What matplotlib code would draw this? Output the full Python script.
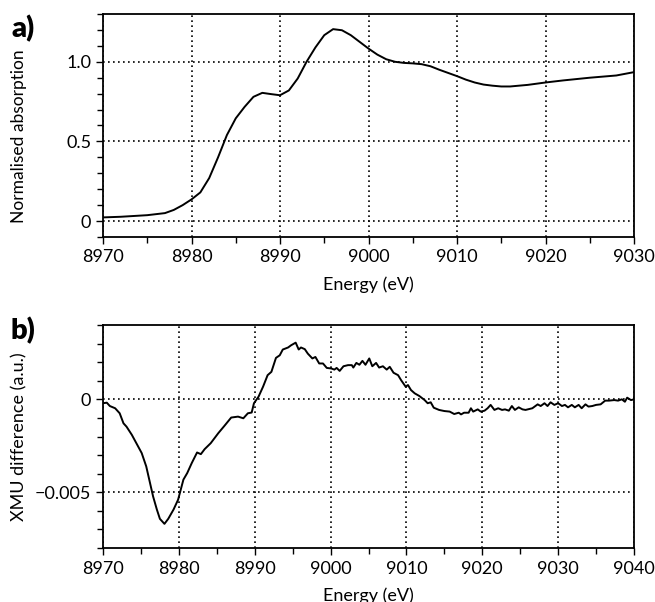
import matplotlib
matplotlib.use("Agg")
import matplotlib.pyplot as plt
from matplotlib.ticker import MultipleLocator, FixedLocator, FixedFormatter

plt.rcParams['font.family'] = ['Lato', 'DejaVu Sans']

# ---- panel a: normalised XANES ----
energy_a = [8970, 8972, 8975, 8977, 8978, 8979, 8980, 8981, 8982, 8983, 8984, 8985,
            8986, 8987, 8988, 8989, 8990, 8991, 8992, 8993, 8994, 8995, 8996, 8997,
            8998, 8999, 9000, 9001, 9002, 9003, 9004, 9005, 9006, 9007, 9008, 9009,
            9010, 9011, 9012, 9013, 9014, 9015, 9016, 9018, 9020, 9022, 9025, 9028, 9030]
absorb_a = [0.023, 0.027, 0.037, 0.050, 0.070, 0.100, 0.136, 0.180, 0.270, 0.400, 0.540, 0.645,
            0.717, 0.780, 0.805, 0.797, 0.790, 0.820, 0.895, 1.000, 1.090, 1.167, 1.205, 1.198,
            1.167, 1.125, 1.083, 1.045, 1.016, 1.000, 0.993, 0.990, 0.985, 0.972, 0.950, 0.930,
            0.910, 0.888, 0.870, 0.857, 0.850, 0.845, 0.845, 0.855, 0.870, 0.883, 0.900, 0.914, 0.935]

# ---- panel b: XMU difference (units of 1e-3) ----
energy_b = [8970.0, 8970.5, 8970.9, 8971.6, 8972.2, 8972.7, 8973.1, 8973.8, 8974.4, 8975.1,
            8975.7, 8976.2, 8976.6, 8977.1, 8977.5, 8978.1, 8978.6, 8979.3, 8979.9, 8980.6,
            8981.1, 8981.7, 8982.4, 8982.9, 8983.4, 8984.2, 8985.2, 8986.0, 8986.9, 8987.8,
            8988.5, 8989.1, 8989.6, 8989.9, 8990.5, 8991.1, 8991.7, 8992.2, 8992.8, 8993.3,
            8993.7, 8994.4, 8994.8, 8995.4, 8995.8, 8996.1, 8996.6, 8997.0, 8997.6, 8998.0,
            8998.5, 8999.0, 8999.5, 9000.1, 9000.5, 9000.8, 9001.2, 9001.7, 9002.3, 9002.8,
            9003.0, 9003.4, 9003.8, 9004.2, 9004.6, 9005.1, 9005.5, 9006.0, 9006.4, 9006.9,
            9007.4, 9007.8, 9008.3, 9008.9, 9009.3, 9009.9, 9010.2, 9010.6, 9011.1, 9011.7,
            9012.4, 9012.8, 9013.2, 9013.6, 9014.3, 9015.0, 9015.7, 9016.3, 9016.9, 9017.2,
            9017.6, 9018.2, 9018.5, 9018.8, 9019.4, 9019.8, 9020.3, 9020.7, 9021.1, 9021.6,
            9022.1, 9022.6, 9023.0, 9023.5, 9023.9, 9024.3, 9024.8, 9025.3, 9025.7, 9026.6,
            9027.3, 9027.7, 9028.2, 9028.6, 9029.0, 9029.5, 9030.0, 9030.5, 9030.9, 9031.3,
            9031.8, 9032.2, 9032.7, 9033.1, 9033.6, 9034.0, 9034.5, 9035.0, 9035.6, 9036.2,
            9036.7, 9037.4, 9037.9, 9038.4, 9038.8, 9039.1, 9039.6, 9040.0]
xmu_b = [-0.21, -0.18, -0.36, -0.48, -0.75, -1.29, -1.47, -1.91, -2.36, -2.89,
         -3.61, -4.50, -5.22, -5.93, -6.43, -6.70, -6.43, -5.93, -5.40, -4.32,
         -3.97, -3.43, -2.86, -2.95, -2.68, -2.36, -1.82, -1.43, -0.98, -0.93,
         -1.02, -0.75, -0.71, -0.21, 0.14, 0.68, 1.30, 1.48, 2.23, 2.37,
         2.68, 2.79, 2.91, 3.05, 2.68, 2.79, 2.70, 2.46, 2.20, 2.28,
         1.93, 1.93, 1.69, 1.66, 1.60, 1.69, 1.53, 1.78, 1.84, 1.84,
         1.71, 1.96, 1.86, 2.07, 1.86, 2.20, 1.78, 1.96, 1.71, 1.78,
         1.60, 1.75, 1.43, 1.30, 1.03, 0.68, 0.77, 0.50, 0.32, 0.18,
         -0.04, -0.21, -0.16, -0.45, -0.57, -0.63, -0.66, -0.79, -0.72, -0.81,
         -0.72, -0.72, -0.48, -0.66, -0.54, -0.66, -0.61, -0.48, -0.30, -0.57,
         -0.48, -0.57, -0.54, -0.61, -0.36, -0.57, -0.43, -0.54, -0.57, -0.48,
         -0.27, -0.36, -0.21, -0.36, -0.16, -0.30, -0.21, -0.36, -0.30, -0.43,
         -0.30, -0.43, -0.30, -0.48, -0.27, -0.39, -0.36, -0.30, -0.27, -0.07,
         -0.07, -0.04, -0.07, 0.00, -0.13, 0.09, -0.04, 0.00]
xmu_b = [v * 1e-3 for v in xmu_b]

W, H = 655, 602
fig = plt.figure(figsize=(W / 100, H / 100), dpi=100)

ax1 = fig.add_axes([103 / W, 1 - 237 / H, (634 - 103) / W, (237 - 14) / H])
ax2 = fig.add_axes([103 / W, 1 - 548 / H, (634 - 103) / W, (548 - 325) / H])

lw_data = 1.4
ax1.plot(energy_a, absorb_a, color='black', lw=lw_data)
ax2.plot(energy_b, xmu_b, color='black', lw=lw_data)

ax1.set_xlim(8970, 9030)
ax1.set_ylim(-0.1, 1.3)
ax2.set_xlim(8970, 9040)
ax2.set_ylim(-0.008, 0.004)

ax1.xaxis.set_major_locator(MultipleLocator(10))
ax1.xaxis.set_minor_locator(MultipleLocator(5))
ax1.yaxis.set_major_locator(FixedLocator([0, 0.5, 1.0]))
ax1.yaxis.set_major_formatter(FixedFormatter(['0', '0.5', '1.0']))
ax1.yaxis.set_minor_locator(MultipleLocator(0.1))

ax2.xaxis.set_major_locator(MultipleLocator(10))
ax2.xaxis.set_minor_locator(MultipleLocator(5))
ax2.yaxis.set_major_locator(FixedLocator([-0.005, 0]))
ax2.yaxis.set_major_formatter(FixedFormatter(['\u22120.005', '0']))
ax2.yaxis.set_minor_locator(MultipleLocator(0.001))

for ax in (ax1, ax2):
    ax.grid(True, which='major', color='black', linestyle=(0, (1, 2)), linewidth=1.2)
    ax.tick_params(which='both', direction='out', width=1.0, labelsize=13, colors='black')
    ax.tick_params(which='major', length=5)
    ax.tick_params(which='minor', length=4)
    ax.tick_params(axis='x', pad=4)
    for s in ax.spines.values():
        s.set_linewidth(1.3)
    ax.set_xlabel('Energy (eV)', fontsize=13, labelpad=8)

ax1.set_ylabel('Normalised absorption', fontsize=12.5)
ax1.yaxis.set_label_coords(-76 / 531, 0.45)
ax2.set_ylabel('XMU difference (a.u.)', fontsize=13)
ax2.yaxis.set_label_coords(-76 / 531, 0.5)

fig.text(11 / W, 1 - 29 / H, 'a)', fontsize=21, fontweight='heavy', va='center', ha='left')
fig.text(11 / W, 1 - 331 / H, 'b)', fontsize=21, fontweight='heavy', va='center', ha='left')

fig.savefig('out.png', dpi=100)
